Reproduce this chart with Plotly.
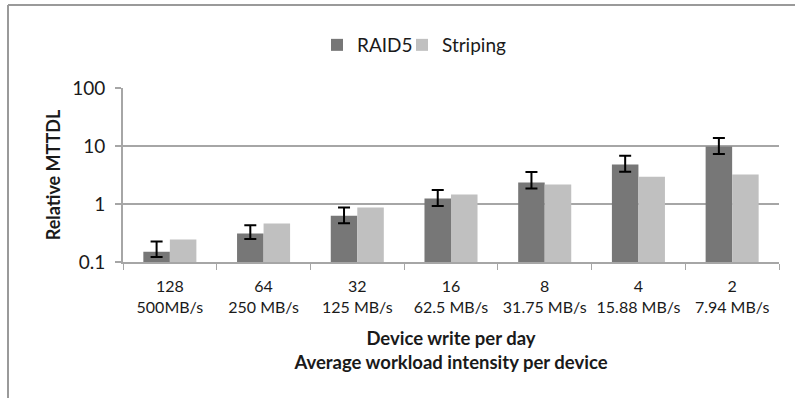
import plotly.graph_objects as go

categories = ["128<br>500MB/s", "64<br>250 MB/s", "32<br>125 MB/s", "16<br>62.5 MB/s",
              "8<br>31.75 MB/s", "4<br>15.88 MB/s", "2<br>7.94 MB/s"]
raid5 = [0.15, 0.31, 0.63, 1.25, 2.35, 4.8, 9.8]
raid5_hi = [0.226, 0.43, 0.87, 1.74, 3.55, 6.8, 13.8]
raid5_lo = [0.122, 0.25, 0.466, 0.92, 1.85, 3.6, 7.25]
striping = [0.245, 0.46, 0.87, 1.46, 2.17, 2.95, 3.23]
ytick_vals = [0.1, 1, 10, 100]
ytick_text = ["0.1", "1", "10", "100"]

FONT = "Lato"
GRID = "#a6a6a6"

err_plus = [h - v for h, v in zip(raid5_hi, raid5)]
err_minus = [v - l for v, l in zip(raid5, raid5_lo)]

fig = go.Figure()
fig.add_trace(go.Bar(
    x=categories, y=raid5, name="RAID5", legend="legend",
    marker=dict(color="#777777", line=dict(width=0)),
    error_y=dict(type="data", symmetric=False, array=err_plus, arrayminus=err_minus,
                 color="black", thickness=2, width=6),
))
fig.add_trace(go.Bar(
    x=categories, y=striping, name="Striping", legend="legend2",
    marker=dict(color="#c0c0c0", line=dict(width=0)),
))

W, H = 795, 398
L, R, T, B = 123, 16, 88, 136
pw, ph = W - L - R, H - T - B

fx0 = (8 - L) / pw
fy1 = (H - B - 5) / ph
leg_y = (H - B - 45) / ph

leg_common = dict(orientation="h", y=leg_y, xanchor="left", yanchor="middle",
                  font=dict(size=19), itemwidth=30, bgcolor="rgba(0,0,0,0)")

fig.update_layout(
    width=W, height=H,
    margin=dict(l=L, r=R, t=T, b=B, pad=0, autoexpand=False),
    paper_bgcolor="white", plot_bgcolor="white",
    font=dict(family=FONT, size=17, color="#1a1a1a"),
    barmode="group", bargap=0.434, bargroupgap=0,
    showlegend=True,
    legend=dict(x=(317 - L) / pw, **leg_common),
    legend2=dict(x=(402 - L) / pw, **leg_common),
    xaxis=dict(
        type="category", showline=True, linecolor=GRID, linewidth=2,
        ticks="outside", tickson="boundaries", ticklen=6, tickcolor=GRID, tickwidth=1,
        tickfont=dict(size=16), ticklabelstandoff=9, tickangle=0, automargin=False,
        title=dict(text="<b>Device write per day<br>Average workload intensity per device</b>",
                   font=dict(size=18.5), standoff=17),
    ),
    yaxis=dict(
        type="log", range=[-1, 2], tickvals=ytick_vals, ticktext=ytick_text,
        showgrid=True, gridcolor=GRID, gridwidth=2,
        showline=True, linecolor=GRID, linewidth=2,
        ticks="outside", ticklen=6, tickcolor=GRID, tickwidth=2,
        tickfont=dict(size=19), ticklabelstandoff=6, automargin=False,
        title=dict(text="<b>Relative MTTDL</b>", font=dict(size=18), standoff=7),
        zeroline=False,
    ),
    shapes=[
        dict(type="line", xref="paper", yref="paper", x0=fx0, x1=1.5, y0=fy1, y1=fy1,
             line=dict(color="#9a9a9a", width=2), layer="below"),
        dict(type="line", xref="paper", yref="paper", x0=fx0, x1=fx0, y0=-1.5, y1=fy1,
             line=dict(color="#9a9a9a", width=2), layer="below"),
    ],
)

fig.write_html("out.html")
